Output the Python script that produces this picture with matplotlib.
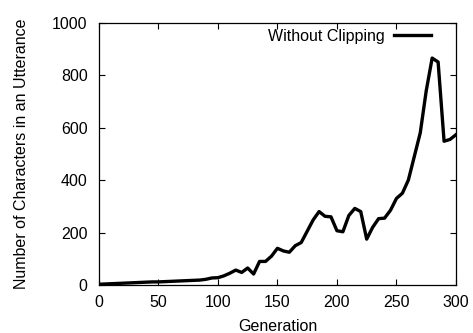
import matplotlib
matplotlib.use("Agg")
import matplotlib.pyplot as plt

plt.rcParams["font.family"] = ["Liberation Sans", "DejaVu Sans"]

# generation vs. mean utterance length
generation = [0, 5, 10, 15, 20, 25, 30, 35, 40, 45, 50, 55, 60, 65, 70, 75, 80, 85,
              90, 95, 100, 105, 110, 115, 120, 125, 130, 135, 140, 145, 150, 155,
              160, 165, 170, 175, 180, 185, 190, 195, 200, 205, 210, 215, 220, 225,
              230, 235, 240, 245, 250, 255, 260, 265, 270, 275, 280, 285, 290, 295, 300]
chars = [3, 4, 5, 6, 7, 8, 9, 10, 11, 12, 12, 13, 14, 15, 16, 17, 18, 19,
         22, 27, 28, 35, 45, 57, 48, 65, 42, 90, 90, 110, 140, 130,
         125, 150, 162, 205, 248, 280, 262, 260, 207, 203, 265, 292, 280, 175,
         220, 253, 255, 285, 330, 350, 400, 490, 580, 740, 865, 850, 548, 555, 573]

fig = plt.figure(figsize=(4.73, 3.33), dpi=100)
ax = fig.add_axes([0.209, 0.144, 0.755, 0.788])

ax.plot(generation, chars, color="black", linewidth=2.4, label="Without Clipping")

ax.set_xlim(0, 300)
ax.set_ylim(0, 1000)
ax.set_xticks([0, 50, 100, 150, 200, 250, 300])
ax.set_yticks([0, 200, 400, 600, 800, 1000])
ax.tick_params(direction="in", top=True, right=True, length=4, width=0.8,
               labelsize=11.5)
ax.tick_params(axis="x", pad=7)
ax.tick_params(axis="y", pad=8)
for s in ax.spines.values():
    s.set_linewidth(0.9)

ax.set_xlabel("Generation", fontsize=11.5, labelpad=7)
ax.set_ylabel("Number of Characters in an Utterance", fontsize=11.5, labelpad=17)

ax.legend(loc="upper right", bbox_to_anchor=(0.911, 0.914),
          bbox_transform=fig.transFigure, frameon=False, markerfirst=False,
          fontsize=11.5, handlelength=2.3, borderaxespad=0, borderpad=0,
          handletextpad=0.6)

fig.savefig("out.png", dpi=100)
